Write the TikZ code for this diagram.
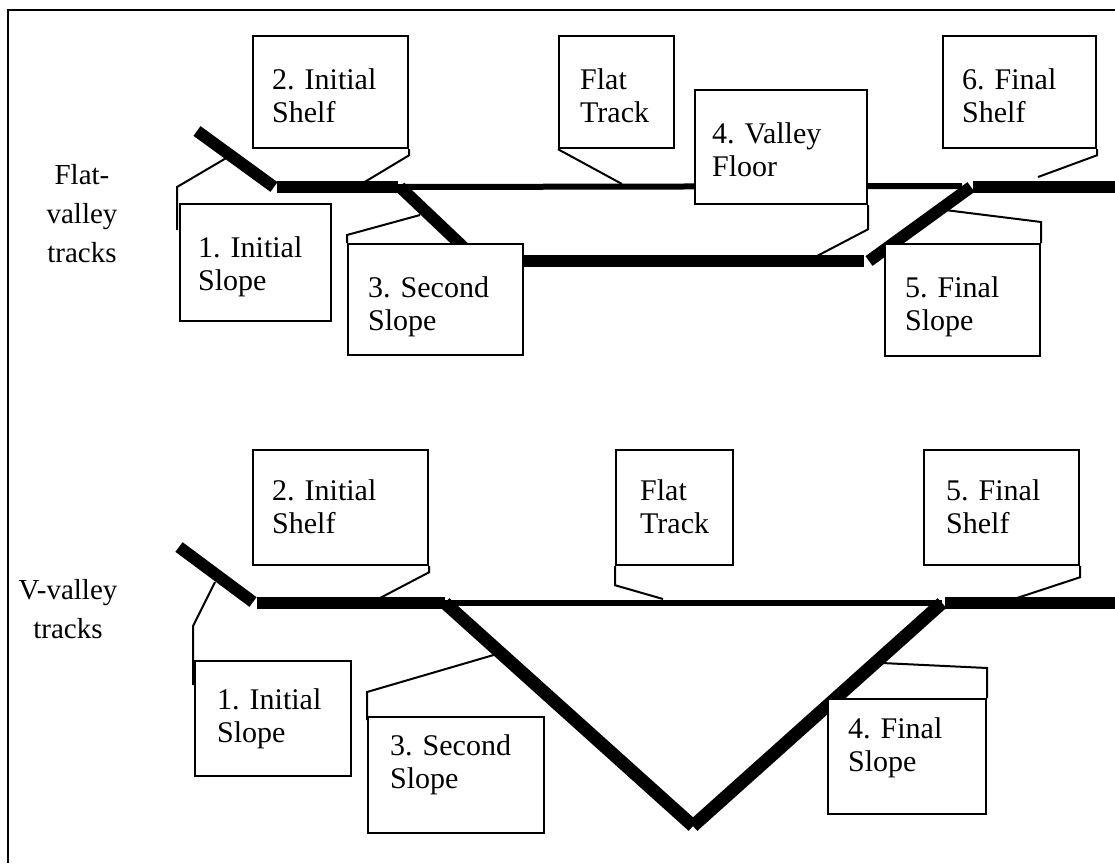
\documentclass[tikz,border=0pt]{standalone}
\usepackage{fontspec}
\setmainfont{Liberation Serif}
\usetikzlibrary{calc}
\begin{document}
\begin{tikzpicture}[x=1pt,y=-1pt,
  box/.style={draw, line width=2.2pt, fill=white, inner sep=0pt, anchor=north west},
  txt/.style={anchor=north west, inner sep=0pt, align=left, font=\fontsize{30}{33}\selectfont},
  side/.style={inner sep=0pt, align=center, anchor=north, font=\fontsize{29}{39}\selectfont},
  heavy/.style={line width=12pt},
  light/.style={line width=6pt},
  ptr/.style={line width=2pt},
  frameline/.style={line width=2.5pt}]
\useasboundingbox (0,0) rectangle (1115,863);
\draw[frameline] (8,863) -- (8,10) -- (1115,10);

% ---------- upper: flat-valley tracks ----------
\coordinate (u1a) at (197,131);
\coordinate (u1b) at (274,187);
\coordinate (u2a) at (277,187);
\coordinate (u2b) at (398,187);
\coordinate (u3a) at (400,187);
\coordinate (u3b) at (478,261);
\coordinate (u4a) at (470,261);
\coordinate (u4b) at (864,261);
\coordinate (u5a) at (869,261);
\coordinate (u5b) at (971,187);
\coordinate (u6a) at (973,187);
\coordinate (u6b) at (1115,187);
\coordinate (uft) at (962,186);

\draw[light] (u2b) -- (uft);
\draw[heavy] (u1a) -- (u1b);
\draw[heavy] (u2a) -- (u2b);
\draw[heavy] (u3a) -- (u3b);
\draw[heavy] (u4a) -- (u4b);
\draw[heavy] (u5a) -- (u5b);
\draw[heavy] (u6a) -- (u6b);

\node[box, minimum width=155, minimum height=112] (b2u) at (252,35) {};
\node[box, minimum width=115, minimum height=112] (flu) at (558,35) {};
\node[box, minimum width=172, minimum height=114] (b4u) at (694,89) {};
\node[box, minimum width=153, minimum height=112] (b6u) at (942,35) {};
\node[box, minimum width=151, minimum height=117] (b1u) at (179,203) {};
\node[box, minimum width=175, minimum height=111] (b3u) at (347,243) {};
\node[box, minimum width=155, minimum height=112] (b5u) at (884,243) {};

\node[txt] (t2u) at ($(b2u.north west)+(20,33)$) {2. Initial\\Shelf};
\node[txt] (tfu) at ($(flu.north west)+(22,33)$) {Flat\\Track};
\node[txt] (t4u) at ($(b4u.north west)+(18,33)$) {4. Valley\\Floor};
\node[txt] (t6u) at ($(b6u.north west)+(20,33)$) {6. Final\\Shelf};
\node[txt] (t1u) at ($(b1u.north west)+(19,33)$) {1. Initial\\Slope};
\node[txt] (t3u) at ($(b3u.north west)+(21,33)$) {3. Second\\Slope};
\node[txt] (t5u) at ($(b5u.north west)+(21,33)$) {5. Final\\Slope};

\coordinate (p1u) at (228,157);
\coordinate (p2u) at (363,183);
\coordinate (p3u) at (420,215);
\coordinate (pfu) at (622,184);
\coordinate (p4u) at (817,256);
\coordinate (p5u) at (945,210);
\coordinate (p6u) at (1038,177);

\draw[ptr] (p1u) -- ($(b1u.north west)+(-2,-16)$) -- ($(b1u.north west)+(-2,27)$);
\draw[ptr] (b2u.south east) -- ++(0,6) -- (p2u);
\draw[ptr] (b3u.north west) -- ++(0,-8) -- (p3u);
\draw[ptr] (flu.south west) -- (pfu);
\draw[ptr] (b4u.south east) -- ++(0,24) -- (p4u);
\draw[ptr] (b5u.north east) -- ++(0,-21) -- (p5u);
\draw[ptr] (b6u.south east) -- ++(0,6) -- (p6u);

\node[side] (lblu) at (82,164) {Flat-\\valley\\tracks};

% ---------- lower: V-valley tracks ----------
\coordinate (l1a) at (179,547);
\coordinate (l1b) at (253,602);
\coordinate (l2a) at (257,603);
\coordinate (l2b) at (445,603);
\coordinate (lv)  at (693,826);
\coordinate (l5a) at (942,603);
\coordinate (l6a) at (945,603);
\coordinate (l6b) at (1115,603);

\draw[light] (l2b) -- (l5a);
\draw[heavy] (l1a) -- (l1b);
\draw[heavy] (l2a) -- (l2b);
\draw[heavy, line width=13pt] (l2b) -- (lv);
\draw[heavy, line width=13pt] (lv) -- (l5a);
\draw[heavy] (l6a) -- (l6b);

\node[box, minimum width=175, minimum height=115] (b2l) at (252,449) {};
\node[box, minimum width=117, minimum height=115] (fll) at (615,449) {};
\node[box, minimum width=155, minimum height=115] (b5l) at (923,449) {};
\node[box, minimum width=156, minimum height=115] (b1l) at (194,660) {};
\node[box, minimum width=176, minimum height=116] (b3l) at (367,716) {};
\node[box, minimum width=158, minimum height=115] (b4l) at (827,698) {};

\node[txt] (t2l) at ($(b2l.north west)+(20,30)$) {2. Initial\\Shelf};
\node[txt] (tfl) at ($(fll.north west)+(25,30)$) {Flat\\Track};
\node[txt] (t5l) at ($(b5l.north west)+(23,30)$) {5. Final\\Shelf};
\node[txt] (t1l) at ($(b1l.north west)+(23,28)$) {1. Initial\\Slope};
\node[txt] (t3l) at ($(b3l.north west)+(23,18)$) {3. Second\\Slope};
\node[txt] (t4l) at ($(b4l.north west)+(21,19)$) {4. Final\\Slope};

\coordinate (p1l) at (215,582);
\coordinate (p2l) at (380,598);
\coordinate (p3l) at (497,654);
\coordinate (pfl) at (663,599);
\coordinate (p4l) at (882,663);
\coordinate (p5l) at (1017,598);

\draw[ptr] (p1l) -- ($(b1l.north west)+(-1,-34)$) -- ($(b1l.north west)+(-1,25)$);
\draw[ptr] (b2l.south east) -- ++(0,6) -- (p2l);
\draw[ptr] ($(b3l.north west)+(0,4)$) -- ++(0,-28) -- (p3l);
\draw[ptr] (fll.south west) -- ++(0,19) -- (pfl);
\draw[ptr] (b4l.north east) -- ++(0,-30) -- (p4l);
\draw[ptr] (b5l.south east) -- ++(0,11) -- (p5l);

\node[side] (lbll) at (68,579) {V-valley\\tracks};
\end{tikzpicture}
\end{document}
